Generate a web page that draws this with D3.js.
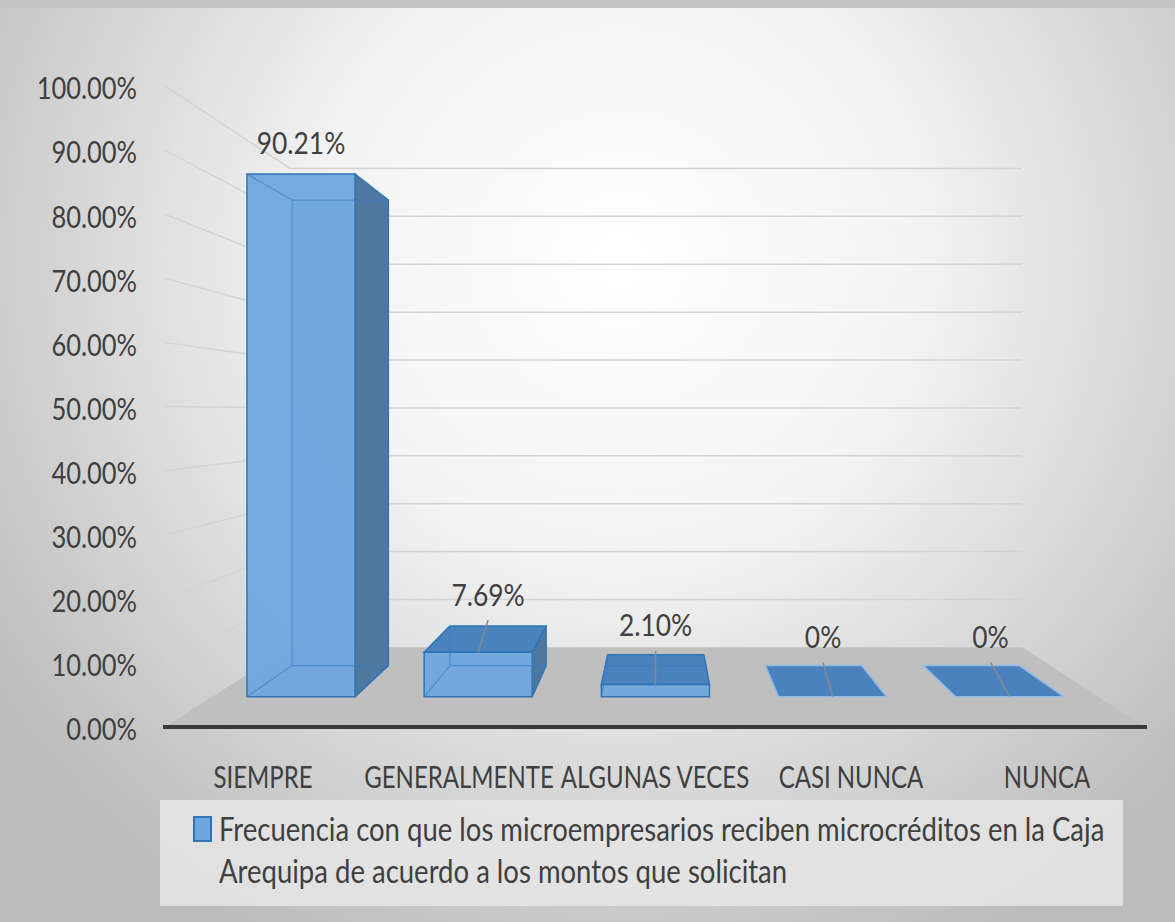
<!DOCTYPE html>
<html>
<head>
<meta charset="utf-8">
<script src="https://cdn.jsdelivr.net/npm/d3@7"></script>
<style>
  html, body { margin: 0; padding: 0; background: #ffffff; }
  text { font-family: Lato, "Open Sans", sans-serif; fill: #404040; }
</style>
</head>
<body>
<div id="app"></div>
<script>
// values
const categories = ["SIEMPRE", "GENERALMENTE", "ALGUNAS VECES", "CASI NUNCA", "NUNCA"];
const values = [0.9021, 0.0769, 0.0210, 0, 0];
const valueLabels = ["90.21%", "7.69%", "2.10%", "0%", "0%"];
const yTicks = [0, 0.1, 0.2, 0.3, 0.4, 0.5, 0.6, 0.7, 0.8, 0.9, 1];
const legendLines = ["Frecuencia con que los microempresarios reciben microcréditos en la Caja",
                     "Arequipa de acuerdo a los montos que solicitan"];

var w = 1175, h = 922;

const svg = d3.select("#app").append("svg")
    .attr("width", w)
    .attr("height", h);

const defs = svg.append("defs");
const bg = defs.append("radialGradient")
    .attr("id", "bg")
    .attr("gradientUnits", "userSpaceOnUse")
    .attr("cx", 620).attr("cy", 260).attr("r", 760);
bg.append("stop").attr("offset", 0).attr("stop-color", "#ffffff");
bg.append("stop").attr("offset", 0.4).attr("stop-color", "#f3f3f3");
bg.append("stop").attr("offset", 1).attr("stop-color", "#bcbcbc");

svg.append("rect").attr("width", w).attr("height", h).attr("fill", "url(#bg)");
svg.append("rect").attr("width", w).attr("height", 8).attr("fill", "#c2c2c2");

// scales on the front plane
const x = d3.scaleBand().domain(categories).range([165, 1145]);
const y = d3.scaleLinear().domain([0, 1]).range([727, 86]);

// perspective: vanishing point and depth scales
const vp = {x: 659, y: 412};
const sWall = 0.747, sBarF = 0.904, sBarB = 0.805;
const sMid = (sBarF + sBarB) / 2;
const barW = 0.61 * x.bandwidth();

function proj(px, py, s) {
    return [vp.x + s * (px - vp.x), vp.y + s * (py - vp.y)];
}
const line = d3.line();
function poly(pts) { return line(pts) + "Z"; }

const x0 = x.range()[0], x1 = x.range()[1];

// gridlines (left wall + back wall)
const grid = svg.append("g");
yTicks.filter(t => t > 0).forEach(t => {
    grid.append("path")
        .attr("d", line([proj(x0, y(t), 1), proj(x0, y(t), sWall), proj(x1, y(t), sWall)]))
        .attr("fill", "none")
        .attr("stroke", "#d3d3d3")
        .attr("stroke-width", 1.5);
});

// floor
svg.append("path")
    .attr("d", poly([proj(x0, y(0), 1), proj(x1, y(0), 1), proj(x1, y(0), sWall), proj(x0, y(0), sWall)]))
    .attr("fill", "#bfbfbf");

// axis line
svg.append("line")
    .attr("x1", x0 - 2).attr("x2", x1 + 2)
    .attr("y1", y(0)).attr("y2", y(0))
    .attr("stroke", "#3a3a3a")
    .attr("stroke-width", 4);

// text helper, squeezed horizontally like the original font
function txt(g, tx, ty, str, anchor, size, sx) {
    return g.append("text")
        .attr("transform", `translate(${tx},${ty}) scale(${sx},1)`)
        .attr("text-anchor", anchor)
        .attr("dominant-baseline", "central")
        .style("font-size", size + "px")
        .text(str);
}

// y tick labels
const fmt = d3.format(".2%");
const yAx = svg.append("g");
yTicks.forEach(t => txt(yAx, 137, y(t) + 2, fmt(t), "end", 30, 0.85));

// category labels
const xAx = svg.append("g");
categories.forEach(c => txt(xAx, x(c) + x.bandwidth() / 2, 776, c, "middle", 30, 0.8));

// bars
const bars = svg.append("g");
const edge = "#2f75b5";
categories.forEach((c, i) => {
    const cx = x(c) + x.bandwidth() / 2;
    const l = cx - barW / 2, r = cx + barW / 2;
    const yt = y(values[i]), yb = y(0);
    const FBL = proj(l, yb, sBarF), FBR = proj(r, yb, sBarF), FTL = proj(l, yt, sBarF), FTR = proj(r, yt, sBarF);
    const BBL = proj(l, yb, sBarB), BBR = proj(r, yb, sBarB), BTL = proj(l, yt, sBarB), BTR = proj(r, yt, sBarB);
    const g = bars.append("g");

    if (values[i] === 0) {
        g.append("path").attr("d", poly([FTL, FTR, BTR, BTL]))
            .attr("fill", "#4a82be").attr("stroke", "#8fbbe6").attr("stroke-width", 1.5);
        return;
    }
    // back face (seen through)
    g.append("path").attr("d", poly([BBL, BBR, BTR, BTL]))
        .attr("fill", "#6ea6dc").attr("fill-opacity", 0.5);
    // side faces
    if (r < vp.x) {
        g.append("path").attr("d", poly([FTR, BTR, BBR, FBR]))
            .attr("fill", "#4e789f").attr("stroke", edge).attr("stroke-width", 1.5);
    }
    if (l > vp.x) {
        g.append("path").attr("d", poly([FTL, BTL, BBL, FBL]))
            .attr("fill", "#4e789f").attr("stroke", edge).attr("stroke-width", 1.5);
    }
    // top face when it is under eye level
    if (FTL[1] > vp.y) {
        g.append("path").attr("d", poly([FTL, FTR, BTR, BTL]))
            .attr("fill", "#4a82be").attr("stroke", edge).attr("stroke-width", 1.5);
    }
    // front face
    g.append("path").attr("d", poly([FBL, FBR, FTR, FTL]))
        .attr("fill", "#6ea6dc").attr("fill-opacity", 0.95)
        .attr("stroke", edge).attr("stroke-width", 1.5);
    // hidden edges showing through
    const hid = [[FTL, BTL], [FBL, BBL], [BTL, BBL], [BBL, BBR]];
    if (FTL[1] <= vp.y) hid.push([BTL, BTR]);
    hid.forEach(p => g.append("path").attr("d", line(p))
        .attr("stroke", "#3a7cc0").attr("stroke-opacity", 0.6).attr("stroke-width", 1.2));
});

// data labels: above the top face centre, with a leader when the top face is seen
const lab = svg.append("g");
categories.forEach((c, i) => {
    const cx = x(c) + x.bandwidth() / 2;
    const ft = proj(cx, y(values[i]), sBarF);
    const mid = proj(cx, y(values[i]), sMid);
    const seen = ft[1] > vp.y;
    const lx = seen ? mid[0] : ft[0];
    const ly = mid[1] - 45;
    if (seen) {
        lab.append("line")
            .attr("x1", lx).attr("y1", ly + 26)
            .attr("x2", ft[0]).attr("y2", ft[1])
            .attr("stroke", "#8a8a8a").attr("stroke-width", 1.5);
    }
    txt(lab, lx, ly, valueLabels[i], "middle", 30, 0.88);
});

// legend
const leg = svg.append("g");
leg.append("rect")
    .attr("x", 160).attr("y", 800)
    .attr("width", 963).attr("height", 106)
    .attr("fill", "#e6e6e6").attr("fill-opacity", 0.85);
leg.append("rect")
    .attr("x", 194).attr("y", 817)
    .attr("width", 17).attr("height", 24)
    .attr("fill", "#6ea6dc").attr("stroke", edge).attr("stroke-width", 2);
legendLines.forEach((t, k) => txt(leg, 219, 829 + k * 42, t, "start", 32, 0.86));
</script>
</body>
</html>
